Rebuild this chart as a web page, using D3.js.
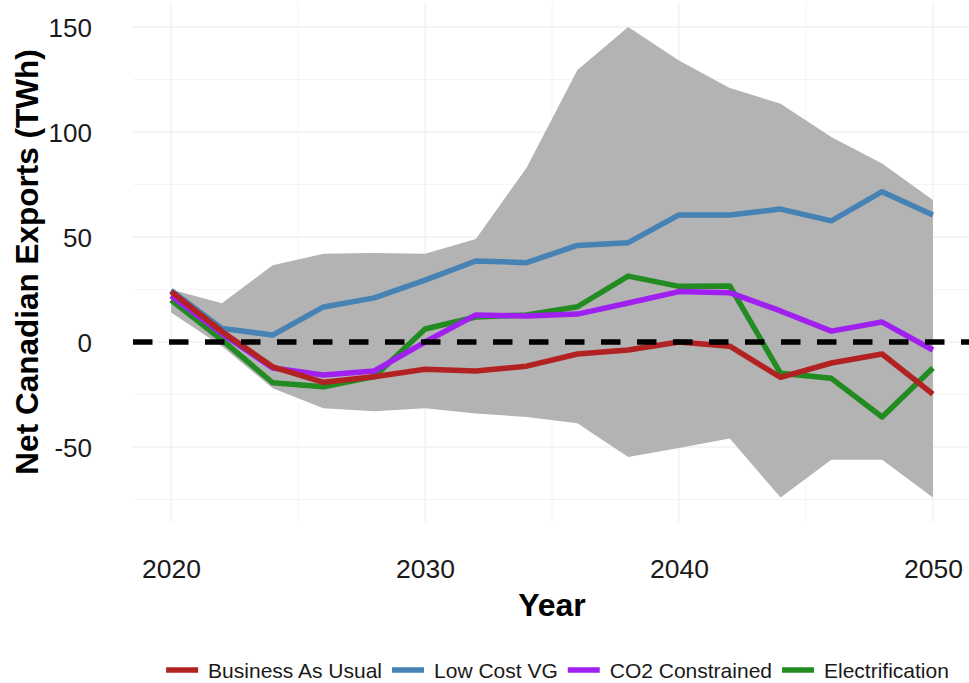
<!DOCTYPE html>
<html>
<head>
<meta charset="utf-8">
<script src="https://cdn.jsdelivr.net/npm/d3@7"></script>
<style>
  html, body { margin: 0; padding: 0; background: #fff; }
  svg { display: block; font-family: "Liberation Sans", Arial, sans-serif; }
</style>
</head>
<body>
<svg id="chart" width="969" height="683"></svg>
<script>
// Net Canadian electricity exports by scenario, 2020-2050 (TWh)
const years = [2020, 2022, 2024, 2026, 2028, 2030, 2032, 2034, 2036, 2038, 2040, 2042, 2044, 2046, 2048, 2050];

// Envelope across all model runs
const rangeUpper = [25, 18.5, 36.5, 42, 42.4, 42, 49, 83, 129.5, 150, 134, 121, 113.5, 97.6, 85, 67.6];
const rangeLower = [14, -2, -22, -31.5, -33, -31.5, -34, -35.7, -38.7, -54.8, -50.5, -46, -74, -56, -56, -74];

// Scenario trajectories
const businessAsUsual = [24, 5, -11.8, -19.2, -16.5, -13, -13.8, -11.5, -5.7, -3.8, 0, -2, -16.8, -10, -5.7, -24.8];
const lowCostVG       = [24.5, 6.5, 3.3, 16.7, 21, 29.5, 38.6, 37.8, 46, 47.3, 60.5, 60.5, 63.3, 57.7, 71.6, 60.5];
const co2Constrained  = [22, 4, -12.4, -15.7, -13.8, 0, 12.9, 12.4, 13.3, 18.6, 24, 23.5, 14.8, 5.2, 9.5, -3.8];
const electrification = [20, 1, -19.4, -21.3, -16.5, 6.2, 11.9, 12.9, 16.8, 31.4, 26.5, 26.7, -14.9, -17.3, -35.7, -12.4];

const scenarioNames  = ["Business As Usual", "Low Cost VG", "CO2 Constrained", "Electrification"];
const scenarioColors = ["#B22222", "#4682B4", "#A020F0", "#228B22"];
const scenarioValues = [businessAsUsual, lowCostVG, co2Constrained, electrification];

const xTicks = [2020, 2030, 2040, 2050];
const xMinor = [2025, 2035, 2045];
const yTicks = [-50, 0, 50, 100, 150];
const yMinor = [-75, -25, 25, 75, 125];

const xTitle = "Year";
const yTitle = "Net Canadian Exports (TWh)";

// Layout
const svg = d3.select("#chart");
const panel = { left: 133, right: 971, top: 2, bottom: 522 };

const x = d3.scaleLinear().domain([2018.5, 2051.5]).range([panel.left, panel.right]);
const y = d3.scaleLinear().domain([-85.7, 161.9]).range([panel.bottom, panel.top]);

const g = svg.append("g");

// Grid
const grid = g.append("g");
grid.selectAll("line.ymin").data(yMinor).join("line")
  .attr("x1", panel.left).attr("x2", panel.right)
  .attr("y1", d => y(d)).attr("y2", d => y(d))
  .attr("stroke", "#F4F4F4").attr("stroke-width", 1);
grid.selectAll("line.xmin").data(xMinor).join("line")
  .attr("y1", panel.top).attr("y2", panel.bottom)
  .attr("x1", d => x(d)).attr("x2", d => x(d))
  .attr("stroke", "#F4F4F4").attr("stroke-width", 1);
grid.selectAll("line.ymaj").data(yTicks).join("line")
  .attr("x1", panel.left).attr("x2", panel.right)
  .attr("y1", d => y(d)).attr("y2", d => y(d))
  .attr("stroke", "#F0F0F0").attr("stroke-width", 1.3);
grid.selectAll("line.xmaj").data(xTicks).join("line")
  .attr("y1", panel.top).attr("y2", panel.bottom)
  .attr("x1", d => x(d)).attr("x2", d => x(d))
  .attr("stroke", "#F0F0F0").attr("stroke-width", 1.3);

// Envelope ribbon
const ribbonData = years.map((yr, i) => ({ yr, lo: rangeLower[i], hi: rangeUpper[i] }));
g.append("path")
  .datum(ribbonData)
  .attr("fill", "#B3B3B3")
  .attr("d", d3.area().x(d => x(d.yr)).y0(d => y(d.lo)).y1(d => y(d.hi)));

// Scenario lines (drawn so Business As Usual ends up on top)
const line = d3.line().x(d => x(d.yr)).y(d => y(d.v));
const drawOrder = [3, 2, 1, 0];
drawOrder.forEach(k => {
  g.append("path")
    .datum(years.map((yr, i) => ({ yr, v: scenarioValues[k][i] })))
    .attr("fill", "none")
    .attr("stroke", scenarioColors[k])
    .attr("stroke-width", 5.5)
    .attr("stroke-linejoin", "round")
    .attr("d", line);
});

// Zero reference
g.append("line")
  .attr("x1", panel.left).attr("x2", panel.right)
  .attr("y1", y(0)).attr("y2", y(0))
  .attr("stroke", "#000").attr("stroke-width", 5.5)
  .attr("stroke-dasharray", "19.5,16.5");

// Axes (labels only, no domain lines or ticks)
const plainNumber = d => String(d);

const xAxis = g.append("g")
  .attr("transform", `translate(0,${panel.bottom + 37})`)
  .call(d3.axisBottom(x).tickValues(xTicks).tickFormat(plainNumber).tickSize(0).tickPadding(0));
xAxis.select(".domain").remove();
xAxis.selectAll("text")
  .attr("font-size", 26.5).attr("fill", "#1a1a1a")
  .attr("font-family", "'Liberation Sans', Arial, sans-serif")
  .attr("dy", "0.71em");

const yAxis = g.append("g")
  .attr("transform", `translate(92,0)`)
  .call(d3.axisLeft(y).tickValues(yTicks).tickFormat(plainNumber).tickSize(0).tickPadding(0));
yAxis.select(".domain").remove();
yAxis.selectAll("text")
  .attr("font-size", 26).attr("fill", "#1a1a1a")
  .attr("font-family", "'Liberation Sans', Arial, sans-serif")
  .attr("dy", "0.36em");

// Axis titles
svg.append("text")
  .attr("x", 552).attr("y", 616)
  .attr("text-anchor", "middle")
  .attr("font-size", 32).attr("font-weight", "bold").attr("fill", "#000")
  .text(xTitle);

svg.append("text")
  .attr("transform", "translate(38,262) rotate(-90)")
  .attr("text-anchor", "middle")
  .attr("font-size", 31.5).attr("font-weight", "bold").attr("fill", "#000")
  .text(yTitle);

// Legend
const legend = svg.append("g");
const keyW = 32, keyGap = 10, itemGap = 10, legendY = 670;
const items = scenarioNames.map((name, i) => {
  const it = legend.append("g");
  it.append("line")
    .attr("x1", 0).attr("x2", keyW).attr("y1", legendY).attr("y2", legendY)
    .attr("stroke", scenarioColors[i]).attr("stroke-width", 5.5);
  const t = it.append("text")
    .attr("x", keyW + keyGap).attr("y", legendY + 8)
    .attr("font-size", 21).attr("fill", "#1a1a1a")
    .text(name);
  return { it, w: keyW + keyGap + t.node().getComputedTextLength() };
});
const total = d3.sum(items, d => d.w) + itemGap * (items.length - 1);
let cx = 557.5 - total / 2;
items.forEach(d => {
  d.it.attr("transform", `translate(${cx},0)`);
  cx += d.w + itemGap;
});
</script>
</body>
</html>
